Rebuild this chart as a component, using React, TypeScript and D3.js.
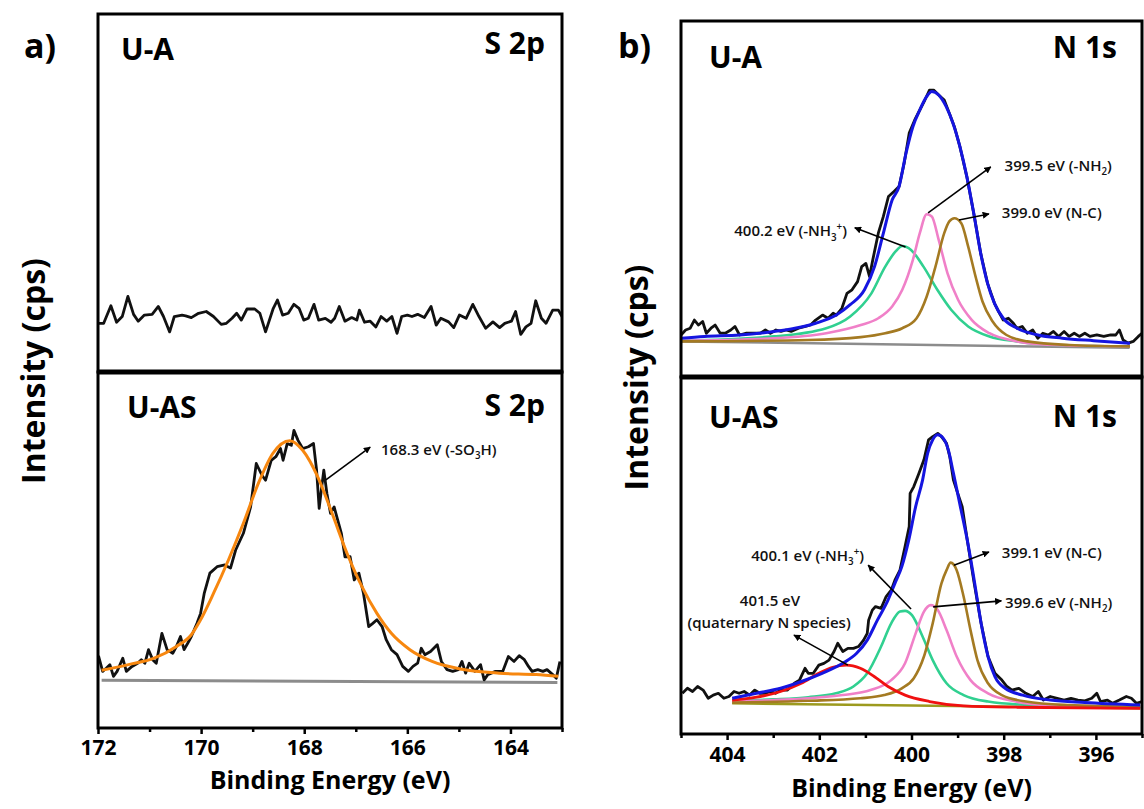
import React, { useRef, useEffect } from "react";
import * as d3 from "d3";

type Pt = [number, number];
type Seg = { t: string; k?: "sub" | "sup" };

// ---- S 2p, sample U-A (binding energy eV, intensity a.u.)
const s2pUA: Pt[] = [
  [171.99, 13.6], [171.89, 13.6], [171.75, 18.5], [171.64, 13.9], [171.53, 15.5], [171.42, 21.1], [171.31, 16.1],
  [171.22, 14.2], [171.1, 15.9], [170.95, 16.1], [170.83, 18.3], [170.73, 15.5], [170.61, 11.2], [170.52, 15.5],
  [170.37, 15.9], [170.3, 15.7], [170.19, 15.2], [170.05, 16.4], [169.9, 16.9], [169.76, 15.5], [169.61, 13.3],
  [169.51, 13.6], [169.4, 15.0], [169.31, 16.4], [169.22, 14.5], [169.11, 17.6], [168.96, 17.6], [168.86, 16.4],
  [168.75, 11.2], [168.6, 17.8], [168.52, 20.1], [168.42, 15.9], [168.31, 16.4], [168.2, 18.9], [168.1, 17.8],
  [168.01, 14.5], [167.92, 15.0], [167.81, 18.9], [167.72, 14.5], [167.59, 15.0], [167.48, 13.9], [167.41, 15.0],
  [167.32, 18.3], [167.21, 14.2], [167.08, 15.2], [166.98, 14.5], [166.93, 17.3], [166.83, 13.9], [166.72, 14.2],
  [166.61, 12.6], [166.51, 15.5], [166.4, 14.2], [166.3, 15.5], [166.2, 10.8], [166.11, 15.5], [166.0, 15.9],
  [165.91, 15.5], [165.8, 16.1], [165.67, 15.2], [165.54, 18.3], [165.44, 13.1], [165.35, 15.0], [165.2, 14.0],
  [165.1, 12.4], [164.99, 15.9], [164.86, 15.0], [164.73, 18.9], [164.61, 15.5], [164.48, 12.2], [164.34, 14.0],
  [164.21, 12.4], [164.11, 13.6], [163.98, 14.2], [163.9, 16.9], [163.8, 10.5], [163.7, 12.6], [163.6, 13.6],
  [163.51, 19.9], [163.4, 15.0], [163.31, 13.6], [163.18, 17.3], [163.07, 17.3], [163.0, 15.5],
];

// ---- S 2p, sample U-AS
const s2pUAS: Pt[] = [
  [171.99, 20.3], [171.91, 15.9], [171.84, 16.8], [171.77, 17.8], [171.7, 14.5], [171.63, 15.9], [171.52, 19.6],
  [171.45, 15.9], [171.34, 17.3], [171.23, 18.2], [171.16, 19.2], [171.09, 18.2], [171.02, 22.0], [170.94, 19.2],
  [170.87, 18.2], [170.76, 26.6], [170.66, 22.0], [170.55, 21.0], [170.48, 22.9], [170.4, 25.7], [170.33, 22.0],
  [170.26, 23.8], [170.19, 25.7], [170.08, 29.4], [170.01, 32.2], [169.94, 37.8], [169.83, 43.5], [169.69, 45.3],
  [169.54, 45.8], [169.43, 44.9], [169.33, 50.0], [169.18, 54.7], [169.04, 62.1], [168.93, 74.3], [168.82, 71.0],
  [168.75, 69.6], [168.64, 75.2], [168.55, 76.2], [168.46, 78.5], [168.41, 75.2], [168.33, 79.9], [168.25, 79.4],
  [168.2, 83.6], [168.12, 80.8], [168.03, 78.5], [167.92, 79.0], [167.82, 79.9], [167.76, 72.4], [167.71, 61.7],
  [167.66, 67.8], [167.62, 72.4], [167.56, 65.9], [167.49, 60.3], [167.42, 62.1], [167.35, 58.4], [167.28, 54.7],
  [167.21, 48.1], [167.11, 48.1], [167.03, 41.6], [166.94, 43.5], [166.85, 37.8], [166.75, 28.5], [166.67, 29.4],
  [166.59, 30.4], [166.49, 28.5], [166.41, 24.8], [166.31, 22.0], [166.2, 20.6], [166.09, 17.3], [165.98, 15.9],
  [165.89, 17.3], [165.8, 18.2], [165.73, 22.4], [165.66, 20.6], [165.55, 21.5], [165.42, 23.4], [165.34, 18.7],
  [165.23, 16.4], [165.12, 15.9], [165.01, 16.4], [164.94, 18.7], [164.87, 15.4], [164.8, 18.2], [164.69, 15.9],
  [164.58, 17.8], [164.51, 13.5], [164.44, 15.0], [164.29, 15.9], [164.15, 15.9], [164.04, 20.1], [163.93, 18.7],
  [163.83, 20.3], [163.73, 19.2], [163.65, 17.3], [163.58, 15.9], [163.47, 16.4], [163.37, 15.9], [163.29, 16.4],
  [163.18, 15.0], [163.11, 14.0], [163.04, 18.7],
];
const s2pUASFit: Pt[] = [
  [171.93, 16.2], [171.41, 17.8], [170.91, 19.6], [170.48, 22.9], [170.19, 26.2], [170.01, 30.4], [169.76, 37.8],
  [169.47, 47.2], [169.18, 57.5], [168.89, 68.7], [168.61, 77.1], [168.28, 80.7], [168.03, 78.0], [167.74, 70.6],
  [167.46, 60.3], [167.17, 49.1], [166.88, 39.7], [166.59, 32.2], [166.31, 26.6], [165.95, 22.0], [165.52, 18.7],
  [164.94, 16.5], [164.22, 15.4], [163.5, 15.0], [163.07, 14.5],
];
const s2pUASBg: Pt[] = [[171.93, 13.4], [163.09, 12.8]];

// ---- N 1s, sample U-A
const n1sUA: Pt[] = [
  [405.0, 11.8], [404.9, 13.2], [404.8, 13.7], [404.71, 16.0], [404.62, 14.6], [404.53, 15.6], [404.45, 12.3],
  [404.35, 13.7], [404.26, 14.6], [404.15, 12.3], [404.04, 12.3], [403.92, 13.2], [403.83, 14.2], [403.73, 11.8],
  [403.58, 12.3], [403.43, 12.3], [403.28, 12.3], [403.17, 13.2], [403.06, 12.3], [402.94, 13.2], [402.83, 12.8],
  [402.72, 13.2], [402.61, 12.8], [402.45, 13.7], [402.3, 14.2], [402.19, 14.6], [402.08, 16.0], [401.93, 17.4],
  [401.81, 16.5], [401.7, 17.9], [401.63, 17.4], [401.51, 19.3], [401.4, 23.5], [401.29, 24.5], [401.17, 26.8],
  [401.08, 31.0], [400.99, 31.9], [400.91, 28.2], [400.84, 32.9], [400.72, 40.4], [400.61, 45.1], [400.5, 50.7],
  [400.38, 52.1], [400.27, 53.5], [400.16, 60.0], [400.05, 68.5], [399.93, 72.2], [399.82, 75.0], [399.71, 77.8],
  [399.61, 80.6], [399.52, 80.6], [399.41, 79.2], [399.29, 77.8], [399.18, 74.1], [399.07, 70.3], [398.95, 64.7],
  [398.8, 56.3], [398.65, 46.0], [398.5, 34.8], [398.35, 26.3], [398.2, 20.7], [398.09, 17.9], [398.01, 16.0],
  [397.9, 16.5], [397.79, 15.1], [397.71, 13.7], [397.6, 14.2], [397.49, 12.3], [397.37, 13.2], [397.26, 10.9],
  [397.15, 12.3], [397.03, 11.8], [396.92, 12.8], [396.81, 11.4], [396.69, 12.8], [396.58, 11.4], [396.47, 12.3],
  [396.36, 11.4], [396.24, 12.3], [396.13, 11.4], [395.98, 11.8], [395.83, 11.4], [395.68, 11.8], [395.57, 11.8],
  [395.49, 13.2], [395.41, 10.4], [395.3, 9.5], [395.19, 10.0], [395.08, 11.4], [395.0, 12.3],
];
const n1sUAEnv: Pt[] = [
  [405.0, 10.9], [404.49, 11.4], [403.73, 11.8], [402.98, 12.8], [402.53, 13.7], [402.08, 15.1], [401.63, 17.4],
  [401.33, 20.3], [401.02, 24.5], [400.8, 31.1], [400.61, 40.4], [400.42, 49.7], [400.27, 53.5], [400.12, 62.8],
  [399.97, 70.3], [399.82, 75.0], [399.67, 78.8], [399.56, 80.2], [399.41, 79.2], [399.25, 76.0], [399.1, 71.3],
  [398.95, 64.7], [398.8, 56.3], [398.65, 46.0], [398.5, 34.8], [398.35, 26.3], [398.2, 20.7], [398.01, 16.5],
  [397.71, 13.7], [397.26, 11.8], [396.73, 10.9], [396.05, 10.2], [395.26, 9.5],
];
const n1sUA_NH3: Pt[] = [
  [405.0, 10.2], [402.98, 11.4], [401.85, 13.7], [401.33, 17.0], [400.87, 23.5], [400.57, 31.0], [400.35, 35.2],
  [400.2, 36.8], [400.01, 35.7], [399.74, 31.0], [399.44, 24.5], [399.14, 18.9], [398.77, 14.2], [398.31, 11.4],
  [397.71, 10.0], [396.96, 9.0], [395.26, 8.6],
];
const n1sUA_NH2: Pt[] = [
  [405.0, 10.2], [402.98, 10.9], [401.85, 12.3], [401.1, 14.6], [400.72, 16.5], [400.42, 19.8], [400.2, 24.5],
  [399.97, 32.9], [399.82, 40.4], [399.67, 45.7], [399.56, 45.1], [399.41, 38.5], [399.22, 29.2], [398.99, 21.7],
  [398.69, 16.0], [398.31, 12.3], [397.71, 10.0], [396.96, 9.0], [395.26, 8.6],
];
const n1sUA_NC: Pt[] = [
  [405.0, 10.0], [402.23, 10.4], [401.1, 11.2], [400.57, 12.3], [400.2, 13.7], [399.89, 16.5], [399.67, 22.6],
  [399.48, 31.0], [399.29, 40.4], [399.18, 43.7], [399.07, 44.6], [398.92, 43.2], [398.77, 36.6], [398.61, 28.2],
  [398.46, 21.2], [398.24, 15.6], [397.94, 11.8], [397.49, 10.0], [396.58, 9.0], [395.26, 8.6],
];
const n1sUABg: Pt[] = [[405.0, 10.0], [395.27, 8.2]];

// ---- N 1s, sample U-AS
const n1sUAS: Pt[] = [
  [404.97, 11.4], [404.86, 12.8], [404.75, 11.9], [404.64, 13.3], [404.52, 12.3], [404.41, 10.0], [404.3, 10.9],
  [404.19, 11.4], [404.07, 10.0], [403.96, 10.5], [403.85, 11.9], [403.74, 11.4], [403.63, 11.9], [403.51, 10.9],
  [403.4, 12.3], [403.29, 11.4], [403.18, 11.4], [403.06, 11.9], [402.95, 11.4], [402.84, 12.3], [402.69, 12.3],
  [402.54, 14.2], [402.43, 15.1], [402.31, 18.4], [402.24, 17.0], [402.13, 17.0], [402.01, 19.3], [401.9, 19.8],
  [401.79, 20.7], [401.68, 23.1], [401.6, 25.4], [401.49, 23.1], [401.38, 24.0], [401.26, 24.0], [401.15, 24.5],
  [401.04, 26.3], [400.96, 28.2], [400.93, 31.9], [400.85, 34.7], [400.78, 35.7], [400.66, 35.2], [400.55, 38.5],
  [400.44, 40.3], [400.36, 43.1], [400.25, 45.9], [400.14, 52.5], [400.05, 58.1], [400.03, 67.4], [399.95, 69.3],
  [399.84, 73.0], [399.73, 76.8], [399.63, 82.4], [399.54, 83.3], [399.43, 84.2], [399.35, 83.3], [399.24, 81.4],
  [399.17, 77.7], [399.09, 71.1], [399.02, 68.3], [398.9, 63.7], [398.79, 54.3], [398.64, 42.2], [398.49, 31.0],
  [398.34, 21.7], [398.19, 17.0], [398.04, 15.1], [397.93, 13.3], [397.82, 12.3], [397.67, 12.8], [397.52, 11.4],
  [397.37, 10.5], [397.25, 11.9], [397.14, 9.5], [396.99, 10.5], [396.84, 10.0], [396.69, 9.5], [396.54, 10.0],
  [396.39, 9.5], [396.24, 9.3], [396.09, 10.0], [395.98, 11.4], [395.9, 9.1], [395.75, 9.5], [395.64, 8.6],
  [395.49, 9.5], [395.34, 10.5], [395.23, 10.0], [395.12, 8.6], [395.0, 9.1],
];
const n1sUASEnv: Pt[] = [
  [403.89, 10.0], [403.36, 11.4], [402.84, 12.8], [402.39, 14.7], [401.94, 17.0], [401.49, 19.8], [401.19, 22.6],
  [400.96, 26.3], [400.74, 31.9], [400.51, 37.5], [400.36, 42.2], [400.21, 46.9], [400.06, 54.3], [399.91, 63.7],
  [399.76, 71.1], [399.65, 78.6], [399.54, 82.4], [399.43, 83.8], [399.31, 82.8], [399.2, 79.5], [399.09, 73.0],
  [398.94, 63.7], [398.79, 54.3], [398.64, 43.1], [398.49, 31.0], [398.34, 21.7], [398.19, 16.1], [397.97, 12.8],
  [397.59, 10.9], [396.99, 9.5], [396.24, 8.8], [395.04, 8.1],
];
const n1sUAS_Q: Pt[] = [
  [403.89, 9.5], [403.36, 10.3], [402.84, 11.9], [402.39, 14.2], [402.01, 17.0], [401.71, 18.7], [401.41, 19.3],
  [401.11, 18.4], [400.81, 16.1], [400.51, 13.3], [400.14, 10.9], [399.61, 9.1], [398.87, 7.9], [397.74, 7.5],
  [395.04, 7.2],
];
const n1sUAS_NH3: Pt[] = [
  [403.89, 9.3], [402.99, 9.7], [402.24, 10.3], [401.64, 11.4], [401.26, 13.3], [400.96, 17.0], [400.66, 24.5],
  [400.44, 31.0], [400.25, 34.3], [400.14, 34.5], [399.99, 33.3], [399.76, 27.3], [399.54, 20.7], [399.24, 14.2],
  [398.87, 10.9], [398.34, 9.1], [397.37, 8.1], [395.04, 7.6],
];
const n1sUAS_NH2: Pt[] = [
  [403.89, 9.2], [402.61, 9.7], [401.49, 10.9], [400.89, 12.3], [400.44, 15.1], [400.14, 19.8], [399.91, 28.2],
  [399.73, 34.3], [399.58, 36.1], [399.43, 34.7], [399.24, 29.1], [399.02, 21.7], [398.72, 15.1], [398.34, 11.4],
  [397.74, 9.1], [396.99, 8.1], [395.04, 7.6],
];
const n1sUAS_NC: Pt[] = [
  [403.89, 8.8], [402.24, 9.3], [401.11, 10.0], [400.59, 10.9], [400.21, 12.8], [399.95, 15.6], [399.73, 21.7],
  [399.54, 31.0], [399.35, 42.2], [399.24, 45.9], [399.15, 48.0], [399.02, 45.9], [398.87, 38.5], [398.72, 29.1],
  [398.57, 20.7], [398.34, 14.2], [398.04, 10.9], [397.52, 9.1], [396.62, 8.1], [395.04, 7.6],
];
const n1sUASBg: Pt[] = [[403.89, 8.6], [395.04, 7.2]];

// axis ticks
const sTicks = [172, 170, 168, 166, 164];
const sMinor = [171, 169, 167, 165, 163];
const nTicks = [404, 402, 400, 398, 396];
const nMinor = [405, 403, 401, 399, 397, 395];

const FONT = "'Open Sans', 'DejaVu Sans', sans-serif";
const C = {
  data: "#111",
  fit: "#f7870f",
  bg: "#8c8c8c",
  env: "#1515e0",
  nh3: "#30d090",
  nh2: "#f080c8",
  nc: "#a47a22",
  q: "#f01010",
  olive: "#9c9a1e",
};

const writeText = (sel: any, segs: Seg[], size: number) => {
  let cur = 0;
  segs.forEach(s => {
    const target = s.k === "sub" ? size * 0.3 : s.k === "sup" ? -size * 0.38 : 0;
    sel.append("tspan")
      .attr("dy", target - cur)
      .attr("font-size", s.k ? size * 0.65 : size)
      .text(s.t);
    cur = target;
  });
};

function drawPanel(svg: any, p: any) {
  const g = svg.append("g");
  const x = d3.scaleLinear().domain(p.xDomain).range([p.left, p.right]);

  p.subplots.forEach((sp: any, i: number) => {
    const y = d3.scaleLinear().domain([0, 100]).range([sp.bottom, sp.top]);
    const clipId = "clip-" + p.id + "-" + i;
    g.append("clipPath").attr("id", clipId).append("rect")
      .attr("x", p.left).attr("y", sp.top)
      .attr("width", p.right - p.left).attr("height", sp.bottom - sp.top);

    const plot = g.append("g").attr("clip-path", "url(#" + clipId + ")");
    sp.series.forEach((s: any) => {
      const line = d3.line<Pt>()
        .x(d => x(d[0]))
        .y(d => y(d[1]))
        .curve(s.smooth ? d3.curveMonotoneX : d3.curveLinear);
      plot.append("path")
        .datum(s.data)
        .attr("fill", "none")
        .attr("stroke", s.color)
        .attr("stroke-width", s.width)
        .attr("stroke-linejoin", "round")
        .attr("d", line);
    });

    g.append("rect")
      .attr("x", p.left).attr("y", sp.top)
      .attr("width", p.right - p.left).attr("height", sp.bottom - sp.top)
      .attr("fill", "none").attr("stroke", "#000").attr("stroke-width", 3);

    g.append("text")
      .attr("x", sp.nameX).attr("y", sp.top + sp.nameDy)
      .attr("font-family", FONT).attr("font-weight", 700).attr("font-size", 30)
      .text(sp.name);
    g.append("text")
      .attr("x", sp.elemX).attr("y", sp.top + sp.elemDy)
      .attr("text-anchor", "end")
      .attr("font-family", FONT).attr("font-weight", 700).attr("font-size", 30)
      .text(sp.elem);

    (sp.notes || []).forEach((n: any) => {
      if (n.from) {
        g.append("line")
          .attr("x1", x(n.from[0])).attr("y1", y(n.from[1]))
          .attr("x2", x(n.to[0])).attr("y2", y(n.to[1]))
          .attr("stroke", "#000").attr("stroke-width", 1.6)
          .attr("marker-end", "url(#arrow)");
      }
      const t = g.append("text")
        .attr("x", x(n.at[0])).attr("y", y(n.at[1]))
        .attr("text-anchor", n.anchor || "start")
        .attr("font-family", FONT).attr("font-weight", 600)
        .attr("fill", "#111");
      writeText(t, n.segs, 15);
    });
  });

  // shared border between the two stacked plots
  g.append("line")
    .attr("x1", p.left).attr("x2", p.right)
    .attr("y1", p.subplots[0].bottom).attr("y2", p.subplots[0].bottom)
    .attr("stroke", "#000").attr("stroke-width", 5);

  const bottom = p.subplots[1].bottom;
  const major = g.append("g")
    .attr("transform", "translate(0," + bottom + ")")
    .call(d3.axisBottom(x).tickValues(p.ticks).tickSize(6).tickSizeOuter(0).tickPadding(p.pad));
  major.select(".domain").remove();
  major.selectAll("line").attr("stroke-width", 2.5);
  major.selectAll("text")
    .attr("font-family", FONT).attr("font-weight", 700).attr("font-size", 21).attr("fill", "#000");

  const minor = g.append("g")
    .attr("transform", "translate(0," + bottom + ")")
    .call(d3.axisBottom(x).tickValues(p.minor).tickSize(4).tickSizeOuter(0).tickFormat(() => ""));
  minor.select(".domain").remove();
  minor.selectAll("line").attr("stroke-width", 2.5);

  g.append("text")
    .attr("x", (p.left + p.right) / 2).attr("y", p.titleY)
    .attr("text-anchor", "middle")
    .attr("font-family", FONT).attr("font-weight", 700).attr("font-size", 25)
    .text("Binding Energy (eV)");

  const midY = (p.subplots[0].top + bottom) / 2;
  g.append("text")
    .attr("transform", "translate(" + p.yTitleX + "," + midY + ") rotate(-90)")
    .attr("text-anchor", "middle")
    .attr("font-family", FONT).attr("font-weight", 700).attr("font-size", 32)
    .text("Intensity (cps)");

  g.append("text")
    .attr("x", p.tagX).attr("y", 58)
    .attr("font-family", FONT).attr("font-weight", 700).attr("font-size", 34)
    .text(p.tag);
}

const panels = [
  {
    id: "a", tag: "a)", tagX: 24, xDomain: [172, 163], left: 98, right: 562,
    ticks: sTicks, minor: sMinor, pad: 6, titleY: 789, yTitleX: 45,
    subplots: [
      {
        top: 14, bottom: 372, name: "U-A", nameX: 121, nameDy: 46, elem: "S 2p", elemX: 545, elemDy: 40,
        series: [{ data: s2pUA, color: C.data, width: 2.8 }],
      },
      {
        top: 372, bottom: 728, name: "U-AS", nameX: 127, nameDy: 46, elem: "S 2p", elemX: 545, elemDy: 44,
        series: [
          { data: s2pUASBg, color: C.bg, width: 3 },
          { data: s2pUAS, color: C.data, width: 2.8 },
          { data: s2pUASFit, color: C.fit, width: 3, smooth: true },
        ],
        notes: [
          { from: [167.58, 69.7], to: [166.72, 78.9], at: [166.51, 76.7], segs: [{ t: "168.3 eV (-SO" }, { t: "3", k: "sub" }, { t: "H)" }] },
        ],
      },
    ],
  },
  {
    id: "b", tag: "b)", tagX: 618, xDomain: [405, 395], left: 681, right: 1142,
    ticks: nTicks, minor: nMinor, pad: 7, titleY: 797, yTitleX: 648,
    subplots: [
      {
        top: 21, bottom: 377, name: "U-A", nameX: 709, nameDy: 47, elem: "N 1s", elemX: 1117, elemDy: 37,
        series: [
          { data: n1sUA, color: C.data, width: 2.8 },
          { data: n1sUABg, color: C.bg, width: 2.5 },
          { data: n1sUA_NH3, color: C.nh3, width: 2.6, smooth: true },
          { data: n1sUA_NH2, color: C.nh2, width: 2.6, smooth: true },
          { data: n1sUA_NC, color: C.nc, width: 2.6, smooth: true },
          { data: n1sUAEnv, color: C.env, width: 3, smooth: true },
        ],
        notes: [
          { from: [399.64, 46.1], to: [398.28, 59.0], at: [397.98, 57.9], segs: [{ t: "399.5 eV (-NH" }, { t: "2", k: "sub" }, { t: ")" }] },
          { from: [398.97, 44.1], to: [398.32, 45.8], at: [398.04, 44.7], segs: [{ t: "399.0 eV (N-C)" }] },
          { from: [400.13, 36.5], to: [401.23, 41.9], at: [401.4, 39.6], anchor: "end", segs: [{ t: "400.2 eV (-NH" }, { t: "3", k: "sub" }, { t: "+", k: "sup" }, { t: ")" }] },
        ],
      },
      {
        top: 377, bottom: 734, name: "U-AS", nameX: 709, nameDy: 51, elem: "N 1s", elemX: 1117, elemDy: 50,
        series: [
          { data: n1sUAS, color: C.data, width: 2.8 },
          { data: n1sUASBg, color: C.olive, width: 2.5 },
          { data: n1sUAS_NH3, color: C.nh3, width: 2.6, smooth: true },
          { data: n1sUAS_NH2, color: C.nh2, width: 2.6, smooth: true },
          { data: n1sUAS_NC, color: C.nc, width: 2.6, smooth: true },
          { data: n1sUAS_Q, color: C.q, width: 2.8, smooth: true },
          { data: n1sUASEnv, color: C.env, width: 3, smooth: true },
        ],
        notes: [
          { from: [400.01, 35.0], to: [400.94, 47.3], at: [401.03, 48.5], anchor: "end", segs: [{ t: "400.1 eV (-NH" }, { t: "3", k: "sub" }, { t: "+", k: "sup" }, { t: ")" }] },
          { at: [403.07, 35.9], anchor: "middle", segs: [{ t: "401.5 eV" }] },
          { from: [401.38, 19.3], to: [402.55, 27.7], at: [403.09, 29.7], anchor: "middle", segs: [{ t: "(quaternary N species)" }] },
          { from: [399.08, 47.3], to: [398.32, 51.0], at: [398.04, 49.3], segs: [{ t: "399.1 eV (N-C)" }] },
          { from: [399.53, 35.6], to: [398.05, 37.3], at: [397.97, 35.3], segs: [{ t: "399.6 eV (-NH" }, { t: "2", k: "sub" }, { t: ")" }] },
        ],
      },
    ],
  },
];

const App = () => {
  const ref = useRef<SVGSVGElement>(null);

  useEffect(() => {
    if (!ref.current) return;
    document.body.style.margin = "0";
    const svg = d3.select(ref.current);
    svg.selectAll("*").remove();

    svg.append("defs").append("marker")
      .attr("id", "arrow")
      .attr("viewBox", "0 0 10 10")
      .attr("refX", 9).attr("refY", 5)
      .attr("markerWidth", 7).attr("markerHeight", 7)
      .attr("markerUnits", "userSpaceOnUse")
      .attr("orient", "auto")
      .append("path").attr("d", "M0,0 L10,5 L0,10 z").attr("fill", "#000");

    panels.forEach(p => drawPanel(svg, p));
  }, []);

  return <svg ref={ref} width={1144} height={809} style={{ display: "block", background: "#fff" }} />;
};

export default App;
